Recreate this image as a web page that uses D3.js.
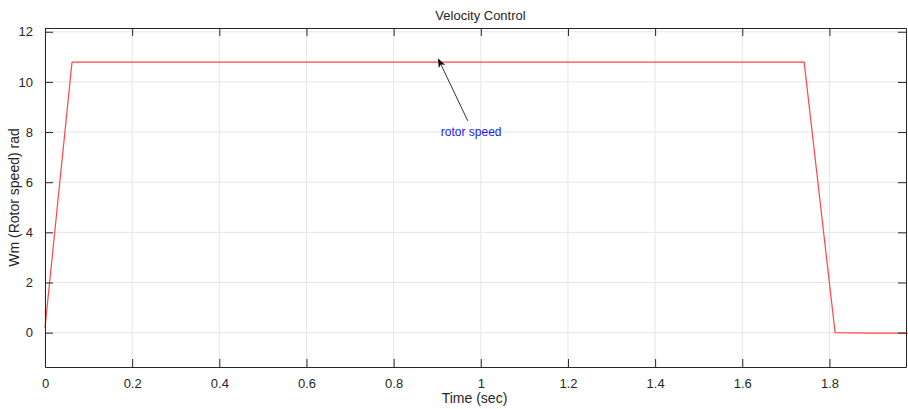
<!DOCTYPE html>
<html><head><meta charset="utf-8">
<script src="https://cdn.jsdelivr.net/npm/d3@7"></script>
<style>body{margin:0;background:#fff;}svg{display:block;font-family:"Liberation Sans",Arial,sans-serif;}</style>
</head><body><svg id="c" width="908" height="409"></svg>
<script>
const time = [0, 0.062, 0.2, 0.6, 1.0, 1.4, 1.742, 1.813, 1.9, 1.98];
const speed = [0.2, 10.79, 10.79, 10.79, 10.79, 10.79, 10.79, 0.0, -0.02, -0.02];
const xTicks = [0, 0.2, 0.4, 0.6, 0.8, 1, 1.2, 1.4, 1.6, 1.8];
const yTicks = [0, 2, 4, 6, 8, 10, 12];
const annotation = {text: "rotor speed", fromT: 0.97, fromV: 8.45, toT: 0.903, toV: 10.9, labelT: 0.978, labelV: 7.84};

const svg = d3.select("#c");
const L = 45, R = 906, T = 28, B = 367;
const x = d3.scaleLinear().domain([0, 1.9757]).range([L, R]);
const y = d3.scaleLinear().domain([-1.37, 12.15]).range([B, T]);

// grid
svg.append("g").selectAll("line").data(xTicks).join("line")
  .attr("x1", d => x(d)).attr("x2", d => x(d)).attr("y1", T).attr("y2", B)
  .attr("stroke", "#e6e6e6").attr("stroke-width", 1);
svg.append("g").selectAll("line").data(yTicks).join("line")
  .attr("x1", L).attr("x2", R).attr("y1", d => y(d)).attr("y2", d => y(d))
  .attr("stroke", "#e6e6e6").attr("stroke-width", 1);

// line
svg.append("path").datum(time.map((t, i) => [t, speed[i]]))
  .attr("d", d3.line().x(d => x(d[0])).y(d => y(d[1])))
  .attr("fill", "none").attr("stroke", "#ff4545").attr("stroke-width", 1.2);

// axes
const tickLen = 8;
const fmt = d => String(d);
const gb = svg.append("g").attr("transform", `translate(0,${B})`)
  .call(d3.axisBottom(x).tickValues(xTicks).tickFormat(fmt).tickSizeInner(-tickLen).tickSizeOuter(0).tickPadding(12));
const gt = svg.append("g").attr("transform", `translate(0,${T})`)
  .call(d3.axisTop(x).tickValues(xTicks).tickFormat("").tickSizeInner(-tickLen).tickSizeOuter(0));
const gl = svg.append("g").attr("transform", `translate(${L},0)`)
  .call(d3.axisLeft(y).tickValues(yTicks).tickFormat(fmt).tickSizeInner(-tickLen).tickSizeOuter(0).tickPadding(12));
const gr = svg.append("g").attr("transform", `translate(${R},0)`)
  .call(d3.axisRight(y).tickValues(yTicks).tickFormat("").tickSizeInner(-tickLen).tickSizeOuter(0));
[gb, gt, gl, gr].forEach(g => {
  g.select(".domain").attr("stroke", "#262626").attr("stroke-width", 1);
  g.selectAll(".tick line").attr("stroke", "#262626");
  g.selectAll("text").attr("fill", "#262626").style("font-size", "13px")
    .style("font-family", "'Liberation Sans', Arial, sans-serif");
});

// title and labels
svg.append("text").attr("x", (L + R) / 2 + 5).attr("y", 20).attr("text-anchor", "middle")
  .attr("fill", "#262626").style("font-size", "13px").text("Velocity Control");
svg.append("text").attr("x", (L + R) / 2 - 1).attr("y", 403).attr("text-anchor", "middle")
  .attr("fill", "#262626").style("font-size", "14px").text("Time (sec)");
svg.append("text").attr("transform", `translate(19,${(T + B) / 2}) rotate(-90)`).attr("text-anchor", "middle")
  .attr("fill", "#262626").style("font-size", "14px").text("Wm (Rotor speed) rad");

// annotation arrow
const defs = svg.append("defs");
defs.append("marker").attr("id", "ah").attr("viewBox", "0 0 10 10").attr("refX", 9).attr("refY", 5)
  .attr("markerWidth", 9).attr("markerHeight", 9).attr("orient", "auto-start-reverse")
  .append("path").attr("d", "M0,1 L10,5 L0,9 L3,5 Z").attr("fill", "#000");
svg.append("line")
  .attr("x1", x(annotation.fromT)).attr("y1", y(annotation.fromV))
  .attr("x2", x(annotation.toT)).attr("y2", y(annotation.toV))
  .attr("stroke", "#333").attr("stroke-width", 1).attr("marker-end", "url(#ah)");
svg.append("text").attr("x", x(annotation.labelT)).attr("y", y(annotation.labelV))
  .attr("text-anchor", "middle").attr("fill", "#1a1aff").style("font-size", "12px").text(annotation.text);
</script></body></html>
